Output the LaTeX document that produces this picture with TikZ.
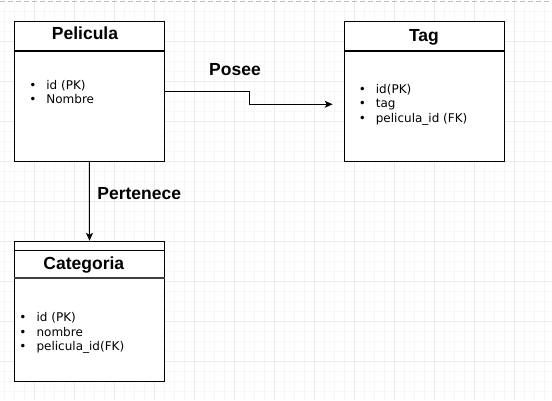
\documentclass[tikz,border=0pt]{standalone}
\usepackage{fontspec}
\setmainfont{Liberation Sans}
\newfontfamily\itemfont{DejaVu Sans}
\usepackage{tikz}
\usetikzlibrary{arrows.meta}

\begin{document}
\begin{tikzpicture}[x=1pt,y=-1pt]
\tikzset{>={Stealth[length=8pt,width=7pt,inset=2pt]}}
\tikzstyle{table} =[draw=black,line width=1pt,fill=white,minimum width=150pt,minimum height=140pt,inner sep=0pt]
\tikzstyle{title} =[font=\bfseries\fontsize{17.5}{20}\selectfont,anchor=base,inner sep=0pt]
\tikzstyle{items} =[font=\itemfont\fontsize{12}{14.5}\selectfont,align=left,anchor=west,inner sep=0pt]
\tikzstyle{minorline} =[draw=black!3,line width=0.6pt]
\tikzstyle{majorline} =[draw=black!8,line width=0.8pt]

\useasboundingbox (0,0) rectangle (552,400);
\fill[white] (0,0) rectangle (552,400);

% grid
\foreach \x in {4.3,14.3,...,552} \draw[minorline] (\x,0) -- (\x,400);
\foreach \y in {11.3,21.3,...,400} \draw[minorline] (0,\y) -- (552,\y);
\foreach \x in {34.3,74.3,...,552} \draw[majorline] (\x,0) -- (\x,400);
\foreach \y in {41.3,81.3,...,400} \draw[majorline] (0,\y) -- (552,\y);
\draw[black!25,dash pattern=on 5pt off 3pt,line width=1pt] (0,1.5) -- (552,1.5);

% tables
\node[table](pel) at (89.4,91.3){};
\node[table,minimum width=160pt](tag) at (424.3,91.3){};
\node[table](cat) at (89.5,311.3){};

\draw[line width=2pt] ([yshift=-29.7pt]pel.north west) -- ([yshift=-29.7pt]pel.north east);
\draw[line width=2pt] ([yshift=-29.7pt]tag.north west) -- ([yshift=-29.7pt]tag.north east);
\draw[line width=1pt] ([yshift=-10pt]cat.north west) -- ([yshift=-10pt]cat.north east);
\draw[black!75,line width=2pt] ([yshift=-37.2pt]cat.north west) -- ([yshift=-37.2pt]cat.north east);

\node[title](peltitle) at (85,39.3){Pelicula};
\node[title](tagtitle) at (424,41.3){Tag};
\node[title](cattitle) at (83.8,269){Categoria};

\node[items](pelitems) at (29.1,92){\textbullet\hspace{10pt}id (PK)\\\textbullet\hspace{10pt}Nombre};
\node[items](tagitems) at (358.6,104.7){\textbullet\hspace{10pt}id(PK)\\\textbullet\hspace{10pt}tag\\\textbullet\hspace{10pt}pelicula\_id (FK)};
\node[items](catitems) at (19.3,333){\textbullet\hspace{10pt}id (PK)\\\textbullet\hspace{10pt}nombre\\\textbullet\hspace{10pt}pelicula\_id(FK)};

% relations
\coordinate (tagin) at (332.7,104.3);
\draw[->,line width=1pt] (pel.east) -- ++(85,0) |- (tagin);
\draw[->,line width=1pt] (pel.south) -- (cat.north);

\node[title](posee) at (235,75){Posee};
\node[title](pertenece) at (139.2,199){Pertenece};

\end{tikzpicture}
\end{document}
